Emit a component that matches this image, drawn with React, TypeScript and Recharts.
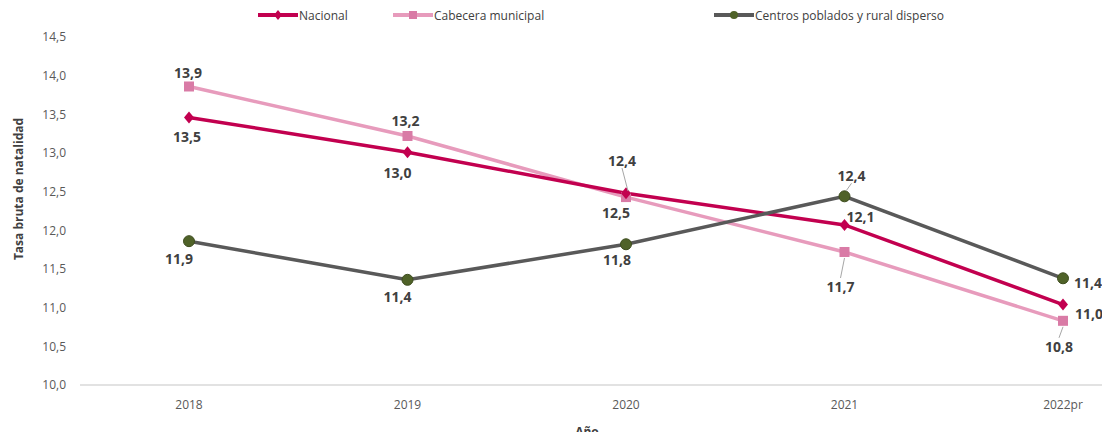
import * as React from "react"
import { LineChart, Line, XAxis, YAxis, LabelList } from "recharts"

const years = ["2018", "2019", "2020", "2021", "2022pr"]
const nacional = [13.46, 13.01, 12.48, 12.07, 11.04]
const cabecera = [13.86, 13.22, 12.43, 11.72, 10.83]
const centros = [11.86, 11.36, 11.82, 12.44, 11.38]
const yTicks = [10, 10.5, 11, 11.5, 12, 12.5, 13, 13.5, 14, 14.5]

const data = years.map((year, i) => ({
  year,
  nacional: nacional[i],
  cabecera: cabecera[i],
  centros: centros[i],
}))

// label placement relative to each point: [dx, dy, leader line]
const nacionalLabelPos: [number, number, boolean][] = [[-2, 19, false], [-10, 20, false], [-10, 19, false], [16, -8, false], [26, 9, false]]
const cabeceraLabelPos: [number, number, boolean][] = [[-1, -14, false], [-2, -15, false], [-4, -37, true], [-4, 35, true], [-4, 26, true]]
const centrosLabelPos: [number, number, boolean][] = [[-10, 17, false], [-10, 17, false], [-9, 15, false], [7, -21, true], [25, 4, false]]

const COLORS = {
  nacional: "#C2004F",
  cabecera: "#E79BBC",
  cabeceraMarker: "#D97BA6",
  centros: "#595959",
  centrosMarker: "#4F6228",
  text: "#404040",
  tick: "#595959",
  axis: "#D9D9D9",
}

const FONT = "'Open Sans', 'Noto Sans', sans-serif"

const fmt = (v: number) => v.toFixed(1).replace(".", ",")

const makeLabel = (pos: [number, number, boolean][]) => (props: any) => {
  const { x, y, value, index } = props
  if (x == null || y == null) return null
  const [dx, dy, leader] = pos[index]
  return (
    <g>
      {leader && (
        <line
          x1={x + dx}
          y1={dy < 0 ? y + dy + 8 : y + dy - 9}
          x2={dy < 0 ? x + 2 : x}
          y2={dy < 0 ? y - 6 : y + 6}
          stroke="#A6A6A6"
          strokeWidth={1}
        />
      )}
      <text
        x={x + dx}
        y={y + dy}
        textAnchor="middle"
        dominantBaseline="central"
        fontFamily={FONT}
        fontSize={14}
        fontWeight={700}
        fill={COLORS.text}
      >
        {fmt(value)}
      </text>
    </g>
  )
}

const Diamond = (props: any) => {
  const { cx, cy } = props
  if (cx == null || cy == null) return null
  return <path d={`M${cx},${cy - 6} L${cx + 5},${cy} L${cx},${cy + 6} L${cx - 5},${cy} Z`} fill={COLORS.nacional} />
}

const Square = (props: any) => {
  const { cx, cy } = props
  if (cx == null || cy == null) return null
  return <rect x={cx - 5} y={cy - 5} width={10} height={10} fill={COLORS.cabeceraMarker} />
}

const Circle = (props: any) => {
  const { cx, cy } = props
  if (cx == null || cy == null) return null
  return <circle cx={cx} cy={cy} r={5.5} fill={COLORS.centrosMarker} stroke="#3E4D1F" strokeWidth={1} />
}

const LegendItem = ({ left, color, name, marker }: { left: number; color: string; name: string; marker: React.ReactNode }) => (
  <div style={{ position: "absolute", left, top: 0, display: "flex", alignItems: "center", height: 14 }}>
    <svg width={40} height={14}>
      <line x1={0} y1={7} x2={40} y2={7} stroke={color} strokeWidth={4} />
      {marker}
    </svg>
    <span style={{ fontFamily: FONT, fontSize: 12, color: COLORS.text, marginLeft: 1, whiteSpace: "nowrap" }}>{name}</span>
  </div>
)

export default function App() {
  return (
    <div style={{ position: "relative", width: 1102, height: 432, overflow: "hidden", background: "#fff" }}>
      <style>{"body{margin:0;overflow:hidden}"}</style>
      <div style={{ position: "absolute", left: 8, top: 8, width: 1094, height: 20 }}>
        <LegendItem
          left={250}
          color={COLORS.nacional}
          name="Nacional"
          marker={<path d="M20,2 L24,7 L20,12 L16,7 Z" fill={COLORS.nacional} />}
        />
        <LegendItem
          left={385}
          color={COLORS.cabecera}
          name="Cabecera municipal"
          marker={<rect x={16} y={3} width={8} height={8} fill={COLORS.cabeceraMarker} />}
        />
        <LegendItem
          left={706}
          color={COLORS.centros}
          name="Centros poblados y rural disperso"
          marker={<circle cx={20} cy={7} r={4} fill={COLORS.centrosMarker} />}
        />
      </div>
      <div style={{ position: "absolute", left: 8, top: 8 }}>
        <LineChart width={1180} height={445} data={data} margin={{ top: 29, right: 16, bottom: 0, left: 0 }}>
          <XAxis
            dataKey="year"
            height={68}
            padding={{ left: 109, right: 109 }}
            axisLine={{ stroke: COLORS.axis, strokeWidth: 1.5 }}
            tickLine={false}
            tickSize={0}
            tickMargin={15}
            tick={{ fontFamily: FONT, fontSize: 12, fill: COLORS.tick }}
            label={{
              value: "Año",
              content: () => (
                <text x={579} y={423} textAnchor="middle" dominantBaseline="central" fontFamily={FONT} fontSize={12} fontWeight={700} fill={COLORS.text}>
                  Año
                </text>
              ),
            }}
          />
          <YAxis
            width={72}
            domain={[10, 14.5]}
            ticks={yTicks}
            axisLine={false}
            tickLine={false}
            tickSize={0}
            tickMargin={14}
            tickFormatter={fmt}
            tick={{ fontFamily: FONT, fontSize: 12, fill: COLORS.tick }}
            label={{
              value: "Tasa bruta de natalidad",
              content: () => (
                <text
                  x={10}
                  y={181}
                  transform="rotate(-90 10 181)"
                  textAnchor="middle"
                  dominantBaseline="central"
                  fontFamily={FONT}
                  fontSize={12}
                  fontWeight={700}
                  fill={COLORS.text}
                >
                  Tasa bruta de natalidad
                </text>
              ),
            }}
          />
          <Line
            dataKey="cabecera"
            name="Cabecera municipal"
            stroke={COLORS.cabecera}
            strokeWidth={3.5}
            dot={<Square />}
            activeDot={false}
            isAnimationActive={false}
          >
            <LabelList dataKey="cabecera" content={makeLabel(cabeceraLabelPos)} />
          </Line>
          <Line
            dataKey="nacional"
            name="Nacional"
            stroke={COLORS.nacional}
            strokeWidth={3.5}
            dot={<Diamond />}
            activeDot={false}
            isAnimationActive={false}
          >
            <LabelList dataKey="nacional" content={makeLabel(nacionalLabelPos)} />
          </Line>
          <Line
            dataKey="centros"
            name="Centros poblados y rural disperso"
            stroke={COLORS.centros}
            strokeWidth={3.5}
            dot={<Circle />}
            activeDot={false}
            isAnimationActive={false}
          >
            <LabelList dataKey="centros" content={makeLabel(centrosLabelPos)} />
          </Line>
        </LineChart>
      </div>
    </div>
  )
}
